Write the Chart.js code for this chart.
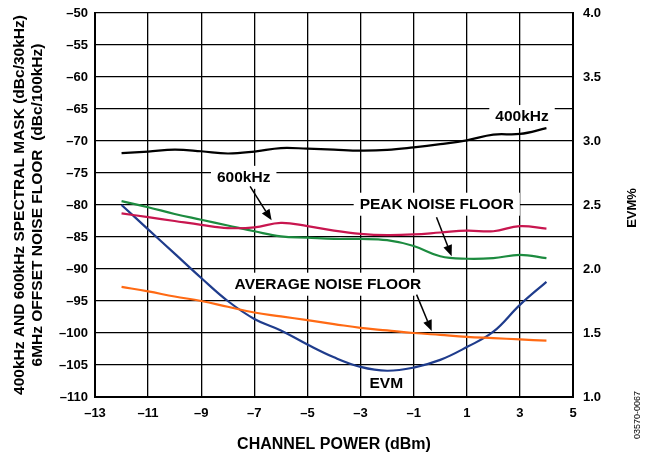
<!DOCTYPE html>
<html>
<head>
<meta charset="utf-8">
<script src="https://cdn.jsdelivr.net/npm/chart.js@4.4.0/dist/chart.umd.min.js"></script>
<style>
html, body { margin: 0; padding: 0; background: #fff; }
</style>
</head>
<body>
<canvas id="chart" width="655" height="459"></canvas>
<script>
// channel power (dBm)
const power = [-12, -11, -10, -9, -8, -7, -6, -5, -4, -3, -2, -1, 0, 1, 2, 3, 4];
// left axis (dBc)
const mask400 = [-71.9, -71.65, -71.35, -71.6, -71.95, -71.65, -71.1, -71.2, -71.35, -71.5, -71.4, -71.0, -70.5, -69.9, -69.0, -68.9, -68.0];
const mask600 = [-81.3, -81.9, -82.5, -83.1, -83.6, -83.5, -82.8, -83.3, -84.0, -84.5, -84.7, -84.6, -84.3, -84.0, -84.1, -83.3, -83.7];
const peakNoise = [-79.4, -80.35, -81.4, -82.3, -83.2, -84.1, -84.9, -85.1, -85.3, -85.3, -85.5, -86.4, -88.0, -88.4, -88.3, -87.8, -88.3];
const avgNoise = [-92.8, -93.5, -94.3, -95.0, -95.9, -96.8, -97.4, -98.0, -98.6, -99.2, -99.6, -100.0, -100.3, -100.6, -100.8, -101.0, -101.2];
// right axis (EVM %)
const evm = [2.50, 2.31, 2.12, 1.93, 1.75, 1.61, 1.52, 1.41, 1.31, 1.235, 1.205, 1.23, 1.29, 1.39, 1.51, 1.72, 1.90];

// labels on the plot: text, position, arrow (all in axis units, left axis)
const notes = [
    { text: '400kHz', x: 3.08, y: -66.1 },
    { text: '600kHz', x: -7.4, y: -75.6, arrow: [-7.16, -77.1, -6.35, -82.4] },
    { text: 'PEAK NOISE FLOOR', x: -0.13, y: -79.8, arrow: [-0.14, -81.9, 0.43, -88.0] },
    { text: 'AVERAGE NOISE FLOOR', x: -4.23, y: -92.3, arrow: [-0.89, -94.0, -0.32, -99.7] },
    { text: 'EVM', x: -2.03, y: -107.8 }
];

const FONT = 'Liberation Sans, Arial, Helvetica, sans-serif';
const dash = v => String(v).replace('-', '\u2013');

function pts(ys) {
    return power.map((p, i) => ({ x: p, y: ys[i] }));
}

function line(label, ys, color, axis) {
    return {
        label: label,
        data: pts(ys),
        borderColor: color,
        borderWidth: 2.2,
        pointRadius: 0,
        tension: 0.4,
        fill: false,
        yAxisID: axis
    };
}

const notesPlugin = {
    id: 'notes',
    beforeDatasetsDraw(chart) {
        const ctx = chart.ctx;
        const xs = chart.scales.x, ys = chart.scales.y;
        ctx.save();
        ctx.font = 'bold 15.5px ' + FONT;
        ctx.textAlign = 'center';
        ctx.textBaseline = 'middle';
        notes.forEach(n => {
            const px = xs.getPixelForValue(n.x);
            const py = ys.getPixelForValue(n.y);
            const w = ctx.measureText(n.text).width;
            ctx.fillStyle = '#fff';
            ctx.fillRect(px - w / 2 - 6, py - 11, w + 12, 23);
            ctx.fillStyle = '#000';
            ctx.fillText(n.text, px, py + 1);
            if (n.arrow) {
                const x1 = xs.getPixelForValue(n.arrow[0]), y1 = ys.getPixelForValue(n.arrow[1]);
                const x2 = xs.getPixelForValue(n.arrow[2]), y2 = ys.getPixelForValue(n.arrow[3]);
                const a = Math.atan2(y2 - y1, x2 - x1);
                const hl = 11, hw = 4.5;
                const bx = x2 - hl * Math.cos(a), by = y2 - hl * Math.sin(a);
                ctx.strokeStyle = '#000';
                ctx.lineWidth = 1.5;
                ctx.beginPath();
                ctx.moveTo(x1, y1);
                ctx.lineTo(bx, by);
                ctx.stroke();
                ctx.beginPath();
                ctx.moveTo(x2, y2);
                ctx.lineTo(bx + hw * Math.sin(a), by - hw * Math.cos(a));
                ctx.lineTo(bx - hw * Math.sin(a), by + hw * Math.cos(a));
                ctx.closePath();
                ctx.fill();
            }
        });
        ctx.restore();
    },
    afterDraw(chart) {
        const ctx = chart.ctx;
        const yr = chart.scales.y2;
        ctx.save();
        ctx.fillStyle = '#000';
        ctx.textAlign = 'center';
        ctx.textBaseline = 'middle';
        ctx.font = 'bold 13px ' + FONT;
        ctx.translate(632, (yr.top + yr.bottom) / 2 + 3);
        ctx.rotate(-Math.PI / 2);
        ctx.fillText('EVM%', 0, 0);
        ctx.restore();
        ctx.save();
        ctx.fillStyle = '#000';
        ctx.textAlign = 'center';
        ctx.textBaseline = 'middle';
        ctx.font = '9px ' + FONT;
        ctx.translate(638, 415);
        ctx.rotate(-Math.PI / 2);
        ctx.fillText('03570-0067', 0, 0);
        ctx.restore();
    }
};

const gridStyle = { color: '#000', lineWidth: 1.3, drawTicks: false };
const borderStyle = { color: '#000', width: 2 };

new Chart(document.getElementById('chart').getContext('2d'), {
    type: 'line',
    data: {
        datasets: [
            line('400kHz', mask400, '#000000', 'y'),
            line('600kHz', mask600, '#c8164f', 'y'),
            line('PEAK NOISE FLOOR', peakNoise, '#1c8b3f', 'y'),
            line('AVERAGE NOISE FLOOR', avgNoise, '#ff6a14', 'y'),
            line('EVM', evm, '#1f3c8c', 'y2')
        ]
    },
    options: {
        responsive: false,
        animation: false,
        layout: { padding: { top: 13, left: 0, right: 0, bottom: 0 } },
        plugins: { legend: { display: false }, tooltip: { enabled: false } },
        scales: {
            x: {
                type: 'linear',
                min: -13, max: 5,
                grid: gridStyle,
                border: borderStyle,
                ticks: {
                    stepSize: 2,
                    padding: 9,
                    color: '#000',
                    font: { family: FONT, size: 13, weight: 'bold' },
                    maxRotation: 0,
                    callback: v => dash(v)
                },
                title: {
                    display: true,
                    text: 'CHANNEL POWER (dBm)',
                    color: '#000',
                    font: { family: FONT, size: 16, weight: 'bold' },
                    padding: { top: 0, bottom: 5 }
                },
                afterFit: s => { s.height = 62; }
            },
            y: {
                position: 'left',
                min: -110, max: -50,
                grid: gridStyle,
                border: borderStyle,
                ticks: {
                    stepSize: 5,
                    padding: 7,
                    color: '#000',
                    font: { family: FONT, size: 13, weight: 'bold' },
                    callback: v => dash(v)
                },
                title: {
                    display: true,
                    text: ['400kHz AND 600kHz SPECTRAL MASK (dBc/30kHz)', '6MHz OFFSET NOISE FLOOR  (dBc/100kHz)'],
                    color: '#000',
                    font: { family: FONT, size: 15.5, weight: 'bold', lineHeight: 1.16 },
                    padding: { top: 11, bottom: 0 }
                },
                afterFit: s => { s.width = 95; s.paddingTop = 0; s.paddingBottom = 0; }
            },
            y2: {
                position: 'right',
                min: 1, max: 4,
                grid: { drawOnChartArea: false, drawTicks: false },
                border: borderStyle,
                ticks: {
                    stepSize: 0.5,
                    padding: 10,
                    color: '#000',
                    font: { family: FONT, size: 13, weight: 'bold' },
                    callback: v => v.toFixed(1)
                },
                afterFit: s => { s.width = 82; s.paddingTop = 0; s.paddingBottom = 0; }
            }
        }
    },
    plugins: [notesPlugin]
});
</script>
</body>
</html>
